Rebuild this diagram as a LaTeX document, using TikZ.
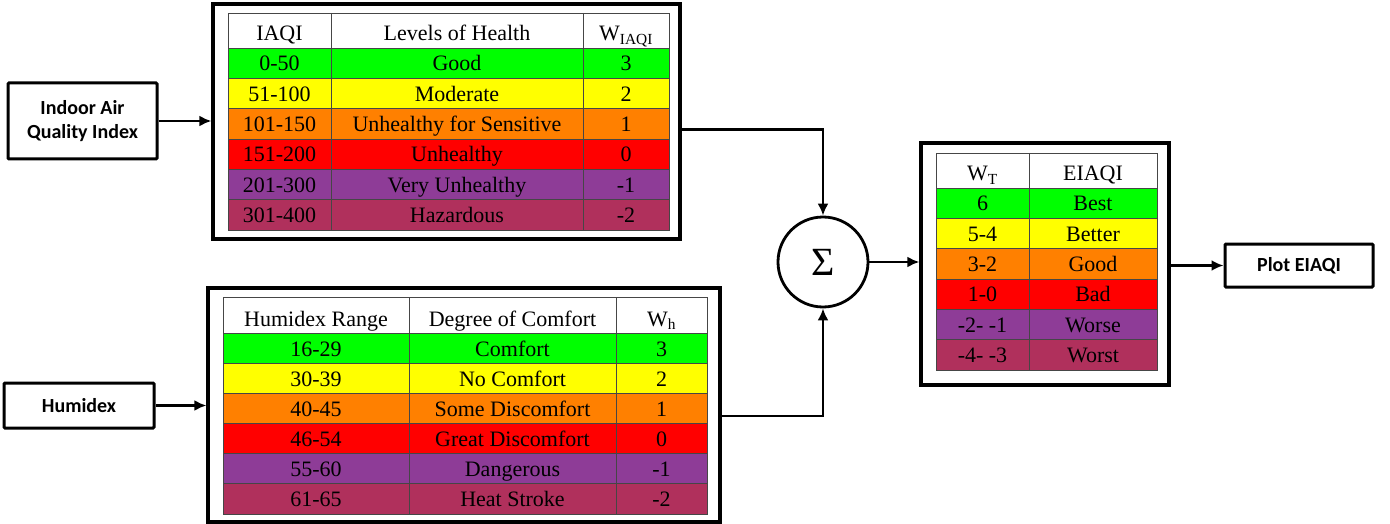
\documentclass[tikz,border=0pt]{standalone}
\usepackage{fontspec}
\setmainfont{Liberation Serif}
\newfontfamily\calib{Carlito}
\usetikzlibrary{arrows.meta}
\definecolor{colG}{RGB}{0,255,0}
\definecolor{colY}{RGB}{255,255,0}
\definecolor{colO}{RGB}{255,128,0}
\definecolor{colR}{RGB}{255,0,0}
\definecolor{colP}{RGB}{142,60,151}
\definecolor{colM}{RGB}{176,48,92}
\definecolor{gridc}{RGB}{70,70,70}
\begin{document}
\begin{tikzpicture}[x=1pt,y=-1pt,
  bigbox/.style={draw=black,line width=3.2pt,fill=white,inner sep=0pt},
  inbox/.style={draw=black,line width=3pt,fill=white,inner sep=0pt,font=\calib\bfseries\fontsize{20}{24}\selectfont,align=center,rounded corners=1pt},
  tt/.style={inner sep=0pt,anchor=base,font=\fontsize{22}{24}\selectfont},
  gl/.style={draw=gridc,line width=0.9pt},
  conn/.style={line width=2.8pt,-{Latex[length=12pt,width=11pt]}}]
\useasboundingbox (0,0) rectangle (1390,524);
% input boxes
\node[inbox,minimum width=149pt,minimum height=76pt] (iaqi) at (82.5,121) {Indoor Air\\Quality Index};
\node[inbox,minimum width=150pt,minimum height=45pt] (hum) at (79,405.5) {Humidex};
\node[inbox,minimum width=148pt,minimum height=43pt] (plot) at (1299,265.5) {Plot EIAQI};
% outer boxes
\node[bigbox,minimum width=467pt,minimum height=235pt] (box1) at (446.5,121.5) {};
\node[bigbox,minimum width=512pt,minimum height=234pt] (box2) at (464,405) {};
\node[bigbox,minimum width=248pt,minimum height=242pt] (box3) at (1045,264) {};
% sum
\node[circle,draw=black,line width=2.8pt,minimum size=90pt,inner sep=0pt,font=\fontsize{40}{44}\selectfont] (sum) at (823,262) {Σ};
% ---- table 1
\fill[white] (228,13) rectangle (669,48);
\node[tt] (h1a) at (279.5,41) {IAQI};
\node[tt] (h1b) at (457,41) {Levels of Health};
\node[tt] (h1c) at (626,41) {W\textsubscript{IAQI}};
\foreach \c/\a/\b/\w [count=\i from 0] in {colG/0-50/Good/3, colY/51-100/Moderate/2, colO/101-150/Unhealthy for Sensitive/1, colR/151-200/Unhealthy/0, colP/201-300/Very Unhealthy/-1, colM/301-400/Hazardous/-2}{
  \fill[fill=\c] (228,{48+\i*30.33}) rectangle (669,{48+(\i+1)*30.33});
  \node[tt] (r1a\i) at (279.5,{48+\i*30.33+23}) {\a};
  \node[tt] (r1b\i) at (457,{48+\i*30.33+23}) {\b};
  \node[tt] (r1c\i) at (626,{48+\i*30.33+23}) {\w};
  \draw[gl] (228,{48+\i*30.33}) -- (669,{48+\i*30.33});
}
\draw[gl] (228,13) rectangle (669,230);
\draw[gl] (331,13) -- (331,230);
\draw[gl] (583,13) -- (583,230);
% ---- table 2
\fill[white] (223,297) rectangle (707,333);
\node[tt] (h2a) at (316,326) {Humidex Range};
\node[tt] (h2b) at (512.5,326) {Degree of Comfort};
\node[tt] (h2c) at (661.5,326) {W\textsubscript{h}};
\foreach \c/\a/\b/\w [count=\i from 0] in {colG/16-29/Comfort/3, colY/30-39/No Comfort/2, colO/40-45/Some Discomfort/1, colR/46-54/Great Discomfort/0, colP/55-60/Dangerous/-1, colM/61-65/Heat Stroke/-2}{
  \fill[fill=\c] (223,{333+\i*30.17}) rectangle (707,{333+(\i+1)*30.17});
  \node[tt] (r2a\i) at (316,{333+\i*30.17+23}) {\a};
  \node[tt] (r2b\i) at (512.5,{333+\i*30.17+23}) {\b};
  \node[tt] (r2c\i) at (661.5,{333+\i*30.17+23}) {\w};
  \draw[gl] (223,{333+\i*30.17}) -- (707,{333+\i*30.17});
}
\draw[gl] (223,297) rectangle (707,514);
\draw[gl] (409,297) -- (409,514);
\draw[gl] (616,297) -- (616,514);
% ---- table 3
\fill[white] (936,153) rectangle (1157,188);
\node[tt] (h3a) at (982.5,181) {W\textsubscript{T}};
\node[tt] (h3b) at (1093,181) {EIAQI};
\foreach \c/\a/\b [count=\i from 0] in {colG/6/Best, colY/5-4/Better, colO/3-2/Good, colR/1-0/Bad, colP/-2- -1/Worse, colM/-4- -3/Worst}{
  \fill[fill=\c] (936,{188+\i*30.33}) rectangle (1157,{188+(\i+1)*30.33});
  \node[tt] (r3a\i) at (982.5,{188+\i*30.33+23}) {\a};
  \node[tt] (r3b\i) at (1093,{188+\i*30.33+23}) {\b};
  \draw[gl] (936,{188+\i*30.33}) -- (1157,{188+\i*30.33});
}
\draw[gl] (936,153) rectangle (1157,370);
\draw[gl] (1029,153) -- (1029,370);
% connectors
\draw[conn] (iaqi.east) -- (iaqi.east -| box1.west);
\draw[conn] (hum.east) -- (hum.east -| box2.west);
\draw[conn] ([yshift=-8pt]box1.east) -| (sum.north);
\draw[conn] ([yshift=-11pt]box2.east) -| (sum.south);
\draw[conn] (sum.east) -- (sum.east -| box3.west);
\draw[conn] (plot.west -| box3.east) -- (plot.west);
\end{tikzpicture}
\end{document}
